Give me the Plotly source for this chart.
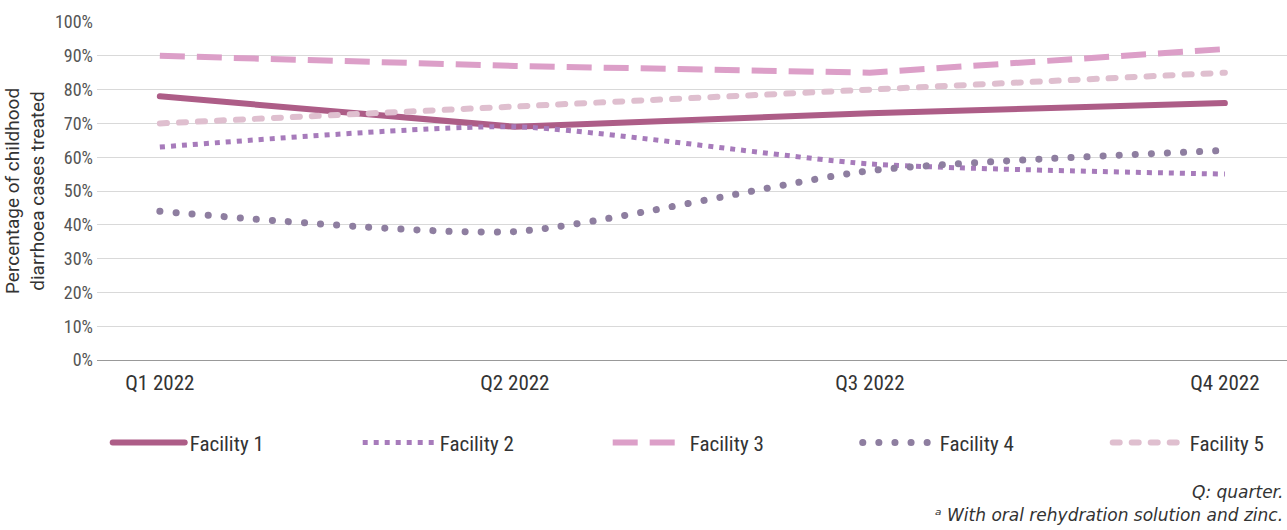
import plotly.graph_objects as go

quarters = ["Q1 2022", "Q2 2022", "Q3 2022", "Q4 2022"]
facility_1 = [78, 69, 73, 76]
facility_2 = [63, 69, 58, 55]
facility_3 = [90, 87, 85, 92]
facility_4 = [44, 38, 56, 62]
facility_5 = [70, 75, 80, 85]

series = [
    ("Facility 1", facility_1, "#ad5d87", 6, "solid", "linear"),
    ("Facility 2", facility_2, "#a77bbb", 5, "5px,6px", "spline"),
    ("Facility 3", facility_3, "#dc9fc8", 6, "25px,12px", "linear"),
    ("Facility 4", facility_4, "#8e7ea0", 7, "0.1px,16px", "spline"),
    ("Facility 5", facility_5, "#dfbfcf", 6, "7px,12px", "spline"),
]

COND = "Roboto Condensed, Liberation Sans Narrow, Roboto, sans-serif"
NOTE = "DejaVu Sans, Open Sans, sans-serif"

fig = go.Figure()
for i, (name, vals, color, width, dash, shape) in enumerate(series):
    fig.add_trace(go.Scatter(
        x=quarters,
        y=vals,
        name=name,
        mode="lines",
        line=dict(color=color, width=width, dash=dash, shape=shape, smoothing=0.6),
        legendwidth=70 if i == len(series) - 1 else None,
    ))

fig.update_layout(
    width=1287,
    height=530,
    paper_bgcolor="white",
    plot_bgcolor="white",
    margin=dict(l=97, r=0, t=22, b=170),
    font=dict(family=COND, color="#333"),
    xaxis=dict(
        range=[-0.177, 3.175],
        showgrid=False,
        showline=True,
        linecolor="#999",
        linewidth=1,
        ticks="",
        tickfont=dict(size=21, color="#333"),
        ticklabelstandoff=4,
    ),
    yaxis=dict(
        range=[0, 100],
        dtick=10,
        ticksuffix="%",
        gridcolor="#d9d9d9",
        gridwidth=1,
        zeroline=False,
        tickfont=dict(size=18, color="#555"),
        ticklabelstandoff=3,
    ),
    legend=dict(
        orientation="h",
        x=0.009,
        xanchor="left",
        y=-0.245,
        yanchor="middle",
        itemwidth=72,
        entrywidth=163,
        font=dict(size=21, color="#333"),
        bgcolor="rgba(0,0,0,0)",
    ),
    annotations=[
        dict(
            text="Percentage of childhood<br>diarrhoea cases treated",
            xref="paper", yref="paper",
            x=-0.0605, y=0.5,
            xanchor="center", yanchor="middle",
            textangle=-90,
            showarrow=False,
            font=dict(family="Roboto, sans-serif", size=19, color="#333"),
        ),
        dict(
            text="Q: quarter.",
            xref="paper", yref="paper",
            x=0.998, y=-0.39,
            xanchor="right", yanchor="middle",
            showarrow=False,
            font=dict(family=NOTE, size=17, color="#333", style="italic"),
        ),
        dict(
            text="ᵃ With oral rehydration solution and zinc.",
            xref="paper", yref="paper",
            x=0.998, y=-0.46,
            xanchor="right", yanchor="middle",
            showarrow=False,
            font=dict(family=NOTE, size=17, color="#333", style="italic"),
        ),
    ],
)

# no page margin, and round line caps for the solid and dotted series
page_fix = """
document.body.style.margin = '0';
var gd = document.querySelector('.plotly-graph-div');
function caps() {
  var idx = [0, 3, 4];
  var lines = gd.querySelectorAll('.scatterlayer .trace');
  var legs = gd.querySelectorAll('.legend .traces');
  idx.forEach(function(i) {
    if (lines[i]) lines[i].querySelectorAll('path.js-line').forEach(function(p){p.style.strokeLinecap='round';});
    if (legs[i]) legs[i].querySelectorAll('path.js-line').forEach(function(p){p.style.strokeLinecap='round';});
  });
}
caps();
gd.on('plotly_afterplot', caps);
"""

fig.write_html("out.html", post_script=page_fix, config={"displayModeBar": False})
